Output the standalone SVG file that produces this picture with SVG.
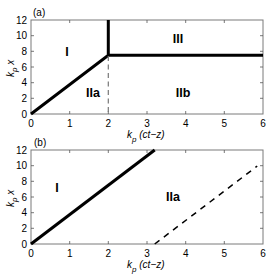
<svg xmlns="http://www.w3.org/2000/svg" width="271" height="275" viewBox="0 0 271 275">
<style>
text{font-family:"Liberation Sans",Arial,sans-serif;fill:#000}
.tk{font-size:10px}
.tx{text-anchor:middle}
.ty{text-anchor:end}
.lab{font-size:10px;font-style:italic}
.reg{font-size:12.5px;font-weight:bold;text-anchor:middle}
.box{fill:none;stroke:#7a7a7a;stroke-width:1}
.tick{stroke:#555;stroke-width:0.8}
.thick{stroke:#000;stroke-width:3;fill:none}
</style>
<rect width="271" height="275" fill="#fff"/>
<g id="panel-a">
<rect class="box" x="31" y="20" width="232" height="94"/>
<path class="tick" d="M69.7,114v-3M108.3,114v-3M147,114v-3M185.7,114v-3M224.3,114v-3M69.7,20v3M108.3,20v3M147,20v3M185.7,20v3M224.3,20v3M31,98.3h3M31,82.7h3M31,67h3M31,51.3h3M31,35.7h3M263,98.3h-3M263,82.7h-3M263,67h-3M263,51.3h-3M263,35.7h-3"/>
<g class="tk tx">
<text x="31" y="127">0</text><text x="69.7" y="127">1</text><text x="108.3" y="127">2</text><text x="147" y="127">3</text><text x="185.7" y="127">4</text><text x="224.3" y="127">5</text><text x="263" y="127">6</text>
</g>
<g class="tk ty">
<text x="27" y="117.5">0</text><text x="27" y="101.8">2</text><text x="27" y="86.2">4</text><text x="27" y="70.5">6</text><text x="27" y="54.8">8</text><text x="27" y="39.2">10</text><text x="27" y="23.5">12</text>
</g>
<text class="tk" x="33" y="16">(a)</text>
<text class="lab" x="127" y="138">k<tspan dy="3.5" font-size="8">p</tspan><tspan dy="-3.5"> (ct−z)</tspan></text>
<text class="lab" transform="translate(13.5,77) rotate(-90)">k<tspan dy="3.5" font-size="8">p</tspan><tspan dy="-3.5"> x</tspan></text>
<text class="reg" x="67" y="56">I</text>
<text class="reg" x="93" y="97">IIa</text>
<text class="reg" x="178" y="43">III</text>
<text class="reg" x="183" y="97">IIb</text>
</g>
<g id="panel-b">
<rect class="box" x="31" y="150" width="232" height="94"/>
<path class="tick" d="M69.7,244v-3M108.3,244v-3M147,244v-3M185.7,244v-3M224.3,244v-3M69.7,150v3M108.3,150v3M147,150v3M185.7,150v3M224.3,150v3M31,228.3h3M31,212.7h3M31,197h3M31,181.3h3M31,165.7h3M263,228.3h-3M263,212.7h-3M263,197h-3M263,181.3h-3M263,165.7h-3"/>
<g class="tk tx">
<text x="31" y="257">0</text><text x="69.7" y="257">1</text><text x="108.3" y="257">2</text><text x="147" y="257">3</text><text x="185.7" y="257">4</text><text x="224.3" y="257">5</text><text x="263" y="257">6</text>
</g>
<g class="tk ty">
<text x="27" y="247.5">0</text><text x="27" y="231.8">2</text><text x="27" y="216.2">4</text><text x="27" y="200.5">6</text><text x="27" y="184.8">8</text><text x="27" y="169.2">10</text><text x="27" y="153.5">12</text>
</g>
<text class="tk" x="34" y="146">(b)</text>
<text class="lab" x="127" y="268">k<tspan dy="3.5" font-size="8">p</tspan><tspan dy="-3.5"> (ct−z)</tspan></text>
<text class="lab" transform="translate(13.5,207) rotate(-90)">k<tspan dy="3.5" font-size="8">p</tspan><tspan dy="-3.5"> x</tspan></text>
<text class="reg" x="57" y="192">I</text>
<text class="reg" x="173" y="201">IIa</text>
</g>
<g id="connectors">
<path class="thick" d="M31,114L108.3,55.3L263,55.3M108.3,55.3V20"/>
<path d="M108.3,56V114" stroke="#777" stroke-width="1.2" stroke-dasharray="5,3.5" fill="none"/>
<path class="thick" d="M31,244L154.7,150"/>
<path d="M154.7,244L257.2,166.1" stroke="#000" stroke-width="1.5" stroke-dasharray="6,5.5" fill="none"/>
</g>
</svg>
